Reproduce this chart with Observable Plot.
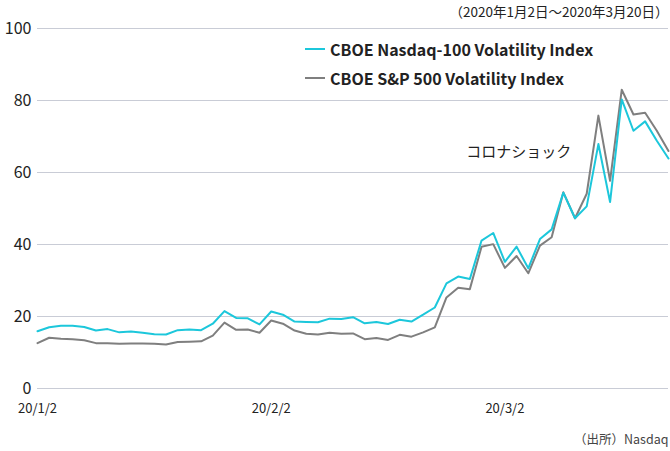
<!DOCTYPE html>
<html>
<head>
<meta charset="utf-8">
<script src="https://cdn.jsdelivr.net/npm/d3@7"></script>
<script src="https://cdn.jsdelivr.net/npm/@observablehq/plot@0.6"></script>
<style>
  html, body { margin: 0; padding: 0; background: #fff; }
  body { font-family: "Noto Sans CJK JP", "Noto Sans", sans-serif; }
  #wrap { position: relative; width: 670px; height: 451px; overflow: hidden; }
  .legend { position: absolute; left: 305px; font-size: 16px; font-weight: bold; color: #222; display: flex; align-items: center; }
  .legend .sw { display: inline-block; width: 20px; height: 2.5px; margin-right: 5px; }
</style>
</head>
<body>
<div id="wrap"></div>
<script>
const dates = ["20/1/2","20/1/3","20/1/6","20/1/7","20/1/8","20/1/9","20/1/10","20/1/13","20/1/14","20/1/15","20/1/16","20/1/17","20/1/21","20/1/22","20/1/23","20/1/24","20/1/27","20/1/28","20/1/29","20/1/30","20/1/31","20/2/3","20/2/4","20/2/5","20/2/6","20/2/7","20/2/10","20/2/11","20/2/12","20/2/13","20/2/14","20/2/18","20/2/19","20/2/20","20/2/21","20/2/24","20/2/25","20/2/26","20/2/27","20/2/28","20/3/2","20/3/3","20/3/4","20/3/5","20/3/6","20/3/9","20/3/10","20/3/11","20/3/12","20/3/13","20/3/16","20/3/17","20/3/18","20/3/19","20/3/20"];
const nasdaqVol = [15.9,17.0,17.4,17.4,17.1,16.1,16.5,15.6,15.8,15.5,15.1,15.0,16.2,16.4,16.2,18.0,21.5,19.6,19.5,17.8,21.4,20.5,18.6,18.5,18.4,19.4,19.3,19.8,18.1,18.5,17.9,19.1,18.6,20.5,22.5,29.2,31.1,30.4,41.1,43.2,35.2,39.4,33.4,41.5,44.2,54.4,47.3,50.6,67.9,51.8,80.3,71.6,74.2,68.8,63.9];
const spVol = [12.6,14.1,13.8,13.7,13.4,12.6,12.6,12.4,12.5,12.5,12.4,12.2,12.9,13.0,13.1,14.7,18.3,16.3,16.4,15.5,18.9,18.0,16.1,15.2,15.0,15.5,15.2,15.3,13.7,14.0,13.5,14.9,14.4,15.6,17.0,25.3,28.0,27.6,39.4,40.1,33.5,36.8,32.0,39.7,42.0,54.5,47.3,54.1,75.8,57.7,83.0,76.1,76.6,71.6,66.0];
const xTickIdx = [0, 20, 40];
const xTickLabels = ["20/1/2", "20/2/2", "20/3/2"];
const yTicks = [0, 20, 40, 60, 80, 100];
const seriesNames = ["CBOE Nasdaq-100 Volatility Index", "CBOE S&P 500 Volatility Index"];
const seriesColors = ["#1cc7db", "#7f7f7f"];
const titleText = "（2020年1月2日～2020年3月20日）";
const sourceText = "（出所）Nasdaq";
const annotations = [{i: 36.7, v: 65.6, label: "コロナショック"}];

const rows = [];
dates.forEach((d, i) => {
  rows.push({i, date: d, value: spVol[i], series: seriesNames[1]});
});
dates.forEach((d, i) => {
  rows.push({i, date: d, value: nasdaqVol[i], series: seriesNames[0]});
});

const font = '"Noto Sans CJK JP", "Noto Sans", sans-serif';
const chart = Plot.plot({
  width: 670,
  height: 451,
  marginTop: 28,
  marginBottom: 63,
  marginLeft: 37,
  marginRight: 2,
  style: {fontFamily: font, color: "#222", background: "#fff"},
  x: {domain: [0, dates.length - 1], axis: null, label: null},
  y: {domain: [0, 100], axis: null, label: null},
  color: {domain: seriesNames, range: seriesColors},
  marks: [
    Plot.gridY(yTicks, {stroke: "#c9ccd6", strokeOpacity: 1, strokeWidth: 1}),
    Plot.axisY(yTicks, {tickSize: 0, tickPadding: 6, fontSize: 16, fill: "#222", anchor: "left", label: null}),
    Plot.axisX(xTickIdx, {tickSize: 0, tickPadding: 15, fontSize: 13, fill: "#222", label: null, tickFormat: (d) => xTickLabels[xTickIdx.indexOf(d)]}),
    Plot.line(rows, {x: "i", y: "value", z: "series", stroke: "series", strokeWidth: 2}),
    Plot.text(annotations, {x: "i", y: "v", text: "label", textAnchor: "start", fontSize: 15, fill: "#222"}),
    Plot.text([titleText], {frameAnchor: "top-right", text: d => d, dy: -21, dx: 0, fontSize: 13.5, fill: "#222"}),
    Plot.text([sourceText], {frameAnchor: "bottom-right", text: d => d, dy: 55, fontSize: 12.5, fill: "#444"})
  ]
});
const wrap = document.getElementById("wrap");
wrap.appendChild(chart);
[0, 1].forEach(k => {
  const div = document.createElement("div");
  div.className = "legend";
  div.style.top = (37 + k * 29) + "px";
  const sw = document.createElement("span");
  sw.className = "sw";
  sw.style.background = seriesColors[k];
  const t = document.createElement("span");
  t.textContent = seriesNames[k];
  div.appendChild(sw);
  div.appendChild(t);
  wrap.appendChild(div);
});
</script>
</body>
</html>
